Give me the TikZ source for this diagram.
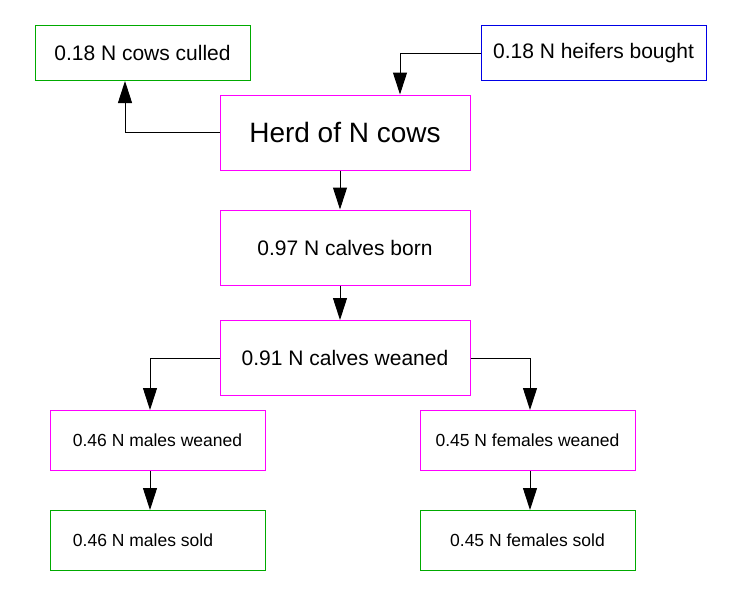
\documentclass[tikz,border=0pt]{standalone}
\usepackage{fontspec}
\setmainfont{Liberation Sans}
\usetikzlibrary{arrows.meta}

\definecolor{boxgreen}{RGB}{0,170,0}
\definecolor{boxpink}{RGB}{255,0,255}
\definecolor{boxblue}{RGB}{0,0,230}

\tikzset{
	stage/.style={draw=boxpink, line width=1pt, inner sep=0pt, minimum width=250pt, minimum height=75pt, font=\fontsize{21}{25}\selectfont},
	outbox/.style={draw=boxgreen, line width=1pt, inner sep=0pt},
	splitbox/.style={draw, line width=1pt, inner sep=0pt, minimum width=215pt, minimum height=60pt, font=\fontsize{17.5}{21}\selectfont},
	flow/.style={line width=1pt, -{Triangle[length=22pt,width=14pt]}}
}

\begin{document}
\begin{tikzpicture}[x=1pt, y=-1pt]
	
	\useasboundingbox (0,0) rectangle (750,600);

	\node[outbox, minimum width=215pt, minimum height=55pt, font=\fontsize{21}{25}\selectfont] (culled) at (142.5,53) {0.18 N cows culled};

	\node[draw=boxblue, line width=1pt, inner sep=0pt, minimum width=225pt, minimum height=55pt, font=\fontsize{21}{25}\selectfont] (heifers) at (593.5,53) {0.18 N heifers bought};

	\node[stage, font=\fontsize{28}{33}\selectfont] (herd) at (345,132.5) {Herd of N cows};

	\node[stage] (born) at (345,247.5) {0.97 N calves born};

	\node[stage] (weaned) at (345,358) {0.91 N calves weaned};

	\node[splitbox, draw=boxpink] (maleswean) at (157.5,440.5) {0.46 N males weaned};

	\node[splitbox, draw=boxpink] (femwean) at (527.5,440.5) {0.45 N females weaned};

	\node[splitbox, draw=boxgreen] (malesold) at (157.5,540.5) {0.46 N males sold\hspace{29pt}\mbox{}};

	\node[splitbox, draw=boxgreen] (femsold) at (527.5,540.5) {0.45 N females sold};

	\draw[flow]  (herd.west) -| ([xshift=-17.5pt]culled.south);
	\draw[flow]  (heifers.west) -| ([xshift=55pt]herd.north);
	\draw[flow]  ([xshift=-5pt]herd.south) -- ([xshift=-5pt]born.north);
	\draw[flow]  ([xshift=-5pt]born.south) -- ([xshift=-5pt]weaned.north);
	\draw[flow]  (weaned.west) -| ([xshift=-7.5pt]maleswean.north);
	\draw[flow]  (weaned.east) -| ([xshift=2.5pt]femwean.north);
	\draw[flow]  ([xshift=-7.5pt]maleswean.south) -- ([xshift=-7.5pt]malesold.north);
	\draw[flow]  ([xshift=2.5pt]femwean.south) -- ([xshift=2.5pt]femsold.north);
\end{tikzpicture}
\end{document}
